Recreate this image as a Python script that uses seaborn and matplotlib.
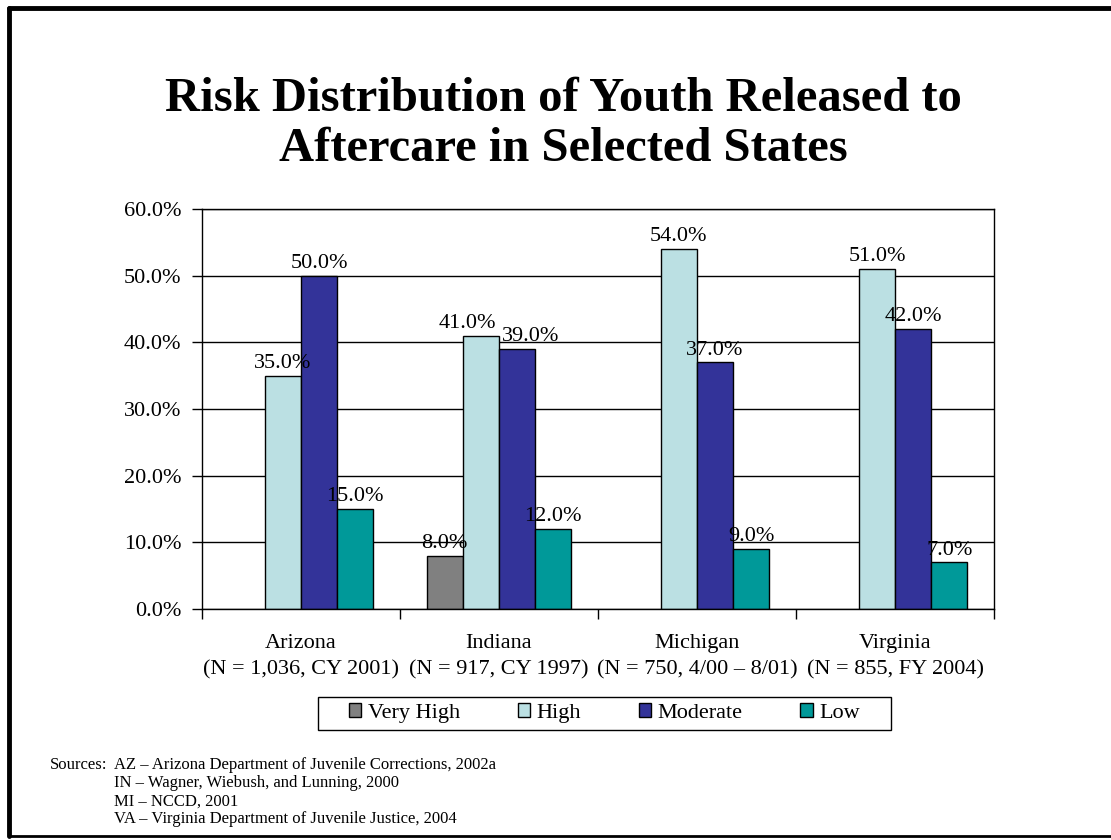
import numpy as np
import pandas as pd
import matplotlib
matplotlib.use("Agg")
import matplotlib.pyplot as plt
from matplotlib.lines import Line2D
from matplotlib.patches import Rectangle
from matplotlib.ticker import StrMethodFormatter, FixedLocator
import seaborn as sns

# Chart data
states = ["Arizona", "Indiana", "Michigan", "Virginia"]
samples = ["(N = 1,036, CY 2001)", "(N = 917, CY 1997)",
           "(N = 750, 4/00 \u2013 8/01)", "(N = 855, FY 2004)"]
risk_levels = ["Very High", "High", "Moderate", "Low"]
very_high = [np.nan, 8.0, np.nan, np.nan]
high = [35.0, 41.0, 54.0, 51.0]
moderate = [50.0, 39.0, 37.0, 42.0]
low = [15.0, 12.0, 9.0, 7.0]
colors = ["#808080", "#BBE0E3", "#333399", "#009999"]

sources = ["AZ \u2013 Arizona Department of Juvenile Corrections, 2002a",
           "IN \u2013 Wagner, Wiebush, and Lunning, 2000",
           "MI \u2013 NCCD, 2001",
           "VA \u2013 Virginia Department of Juvenile Justice, 2004"]

# long-form table for seaborn
df = pd.DataFrame({"State": states, "Very High": very_high, "High": high,
                   "Moderate": moderate, "Low": low})
df = df.melt(id_vars="State", var_name="Risk", value_name="Pct").dropna()

sns.set_style("white")
plt.rcParams["font.family"] = ["Liberation Serif", "DejaVu Serif"]
plt.rcParams["text.color"] = "black"
plt.rcParams["xtick.color"] = "black"
plt.rcParams["ytick.color"] = "black"
plt.rcParams["axes.labelcolor"] = "black"

fig = plt.figure(figsize=(11.11, 8.4), dpi=100)
ax = fig.add_axes([0.1818, 0.275, 0.7129, 0.4762])

sns.barplot(data=df, x="State", y="Pct", hue="Risk", order=states,
            hue_order=risk_levels, palette=colors, saturation=1,
            width=0.73, edgecolor="black", linewidth=1, errorbar=None, ax=ax)

labels_all = []
for cont in ax.containers:
    labels_all += ax.bar_label(cont, fmt="%.1f%%", padding=2, fontsize=16)

ax.set_ylim(0, 60)
ax.set_xlim(-0.5, 3.5)
ax.set_yticks(np.arange(0, 61, 10))
ax.yaxis.set_major_formatter(StrMethodFormatter("{x:.1f}%"))
ax.yaxis.grid(True, color="black", linewidth=1)
ax.set_axisbelow(True)

ax.set_xticks(range(len(states)))
ax.set_xticklabels([s + "\n" + n for s, n in zip(states, samples)])
ax.xaxis.set_minor_locator(FixedLocator(np.arange(-0.5, 4, 1)))
ax.tick_params(axis="x", which="major", length=0, pad=18, labelsize=16)
ax.tick_params(axis="x", which="minor", length=7, width=1, color="black",
               direction="out", bottom=True)
ax.tick_params(axis="y", length=7, width=1, color="black", direction="out",
               left=True, pad=8, labelsize=16)
for lab in ax.get_xticklabels():
    lab.set_linespacing(1.5)
ax.set_xlabel("")
ax.set_ylabel("")
for sp in ax.spines.values():
    sp.set_color("black")
    sp.set_linewidth(1)

# legend below the categories (frame drawn by hand for wider side margins)
handles, labels = ax.get_legend_handles_labels()
leg = ax.legend(handles, labels, loc="center", bbox_to_anchor=(0.544, 0.151),
                bbox_transform=fig.transFigure, ncol=4, frameon=False,
                fontsize=16, handlelength=0.55, handleheight=0.55,
                handletextpad=0.3, columnspacing=2.6, borderpad=0.3)

# push apart value labels that collide (like 41.0% / 39.0%)
fig.canvas.draw()
r = fig.canvas.get_renderer()
labels_all.sort(key=lambda t: t.get_window_extent(r).x0)
for a, b in zip(labels_all[:-1], labels_all[1:]):
    ba, bb = a.get_window_extent(r), b.get_window_extent(r)
    if ba.overlaps(bb):
        shift = (ba.x1 - bb.x0) / 2 + 3
        a.xyann = (a.xyann[0] - shift * 72 / fig.dpi, a.xyann[1])
        b.xyann = (b.xyann[0] + shift * 72 / fig.dpi, b.xyann[1])

lb = leg.get_window_extent(r)
padx = 24
fig.add_artist(Rectangle((lb.x0 - padx, lb.y0), lb.width + 2 * padx, lb.height,
                         transform=None, fill=False, edgecolor="black",
                         linewidth=1))

# title
fig.text(0.507, 1 - 124 / 840,
         "Risk Distribution of Youth Released to\nAftercare in Selected States",
         ha="center", va="center", fontsize=35, fontweight="bold",
         linespacing=1.2)

# sources footnote
fig.text(50 / 1111, 1 - 757 / 840, "Sources:", ha="left", va="top",
         fontsize=12)
fig.text(114 / 1111, 1 - 757 / 840, "\n".join(sources), ha="left", va="top",
         fontsize=12, linespacing=1.18)

# page frame
fig.add_artist(Line2D([9 / 1111, 1.0], [1 - 8 / 840, 1 - 8 / 840],
                      transform=fig.transFigure, color="black", linewidth=3.5))
fig.add_artist(Line2D([9 / 1111, 9 / 1111], [1 - 8 / 840, 1 - 836 / 840],
                      transform=fig.transFigure, color="black", linewidth=3.5))
fig.add_artist(Line2D([9 / 1111, 1.0], [1 - 836 / 840, 1 - 836 / 840],
                      transform=fig.transFigure, color="black", linewidth=2))

fig.savefig("out.png", dpi=100)
